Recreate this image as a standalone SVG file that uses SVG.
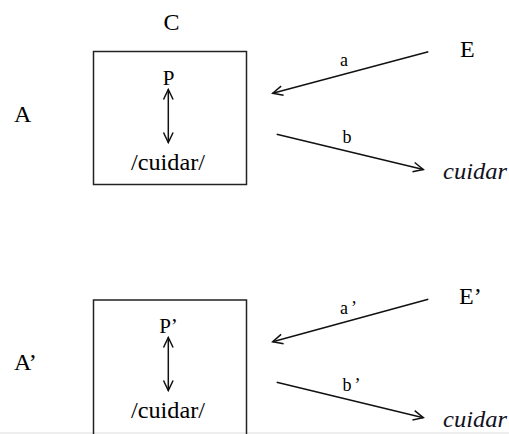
<svg xmlns="http://www.w3.org/2000/svg" width="509" height="434" viewBox="0 0 509 434">
  <style>
    .box { fill: none; stroke: #222; stroke-width: 1.5; }
    .con { fill: none; stroke: #111; stroke-width: 1.5; }
  </style>
  <defs>
    <marker id="head" markerUnits="userSpaceOnUse" markerWidth="14" markerHeight="14" viewBox="-12 -7 14 14" refX="0" refY="0" orient="auto-start-reverse">
      <path d="M -10,-4.8 L 0,0 L -10,4.8" fill="none" stroke="#111" stroke-width="1.5"/>
    </marker>
  </defs>
  <rect x="0" y="0" width="509" height="434" fill="#fff"/>
  <rect x="0" y="432" width="509" height="2" fill="#eeeeee"/>

  <g font-family="Liberation Serif" fill="#000">
  <!-- top panel -->
  <g id="C"><text font-size="24" x="171.5" y="30" text-anchor="middle">C</text></g>
  <g id="A"><text font-size="24" x="14" y="122">A</text></g>
  <g id="box1">
    <rect class="box" x="93.5" y="51.5" width="153" height="133"/>
    <text font-size="21" x="168.5" y="85" text-anchor="middle">P</text>
    <text font-size="23" x="131" y="170" textLength="74" lengthAdjust="spacingAndGlyphs">/cuidar/</text>
  </g>
  <g id="E"><text font-size="24" x="460" y="57">E</text></g>
  <g id="cuidar1"><text font-size="24" font-style="italic" fill="#111122" x="443" y="179" textLength="64" lengthAdjust="spacingAndGlyphs">cuidar</text></g>

  <!-- bottom panel -->
  <g id="A2"><text font-size="24" x="14" y="370">A’</text></g>
  <g id="box2">
    <rect class="box" x="93.5" y="300" width="153" height="140"/>
    <text font-size="21" x="168.5" y="333" text-anchor="middle">P’</text>
    <text font-size="23" x="131" y="418.3" textLength="74" lengthAdjust="spacingAndGlyphs">/cuidar/</text>
  </g>
  <g id="E2"><text font-size="24" x="459" y="304">E’</text></g>
  <g id="cuidar2"><text font-size="24" font-style="italic" fill="#111122" x="443" y="427" textLength="64" lengthAdjust="spacingAndGlyphs">cuidar</text></g>

  <g id="connectors">
    <line class="con" x1="168.3" y1="89.5" x2="168.3" y2="142.5" marker-start="url(#head)" marker-end="url(#head)"/>
    <line class="con" x1="428.3" y1="51.7" x2="272.7" y2="93.3" marker-end="url(#head)"/>
    <text font-size="18" x="344" y="66" text-anchor="middle">a</text>
    <line class="con" x1="276.7" y1="134.2" x2="423.3" y2="169.5" marker-end="url(#head)"/>
    <text font-size="18" x="347" y="142.5" text-anchor="middle">b</text>

    <line class="con" x1="168.3" y1="337.5" x2="168.3" y2="390.5" marker-start="url(#head)" marker-end="url(#head)"/>
    <line class="con" x1="428.3" y1="299.3" x2="272.7" y2="341.7" marker-end="url(#head)"/>
    <text font-size="18" x="340" y="314">a<tspan dx="3">’</tspan></text>
    <line class="con" x1="276.7" y1="382.3" x2="423.3" y2="417.7" marker-end="url(#head)"/>
    <text font-size="18" x="342.5" y="390.5">b<tspan dx="3">’</tspan></text>
  </g>
  </g>
</svg>
